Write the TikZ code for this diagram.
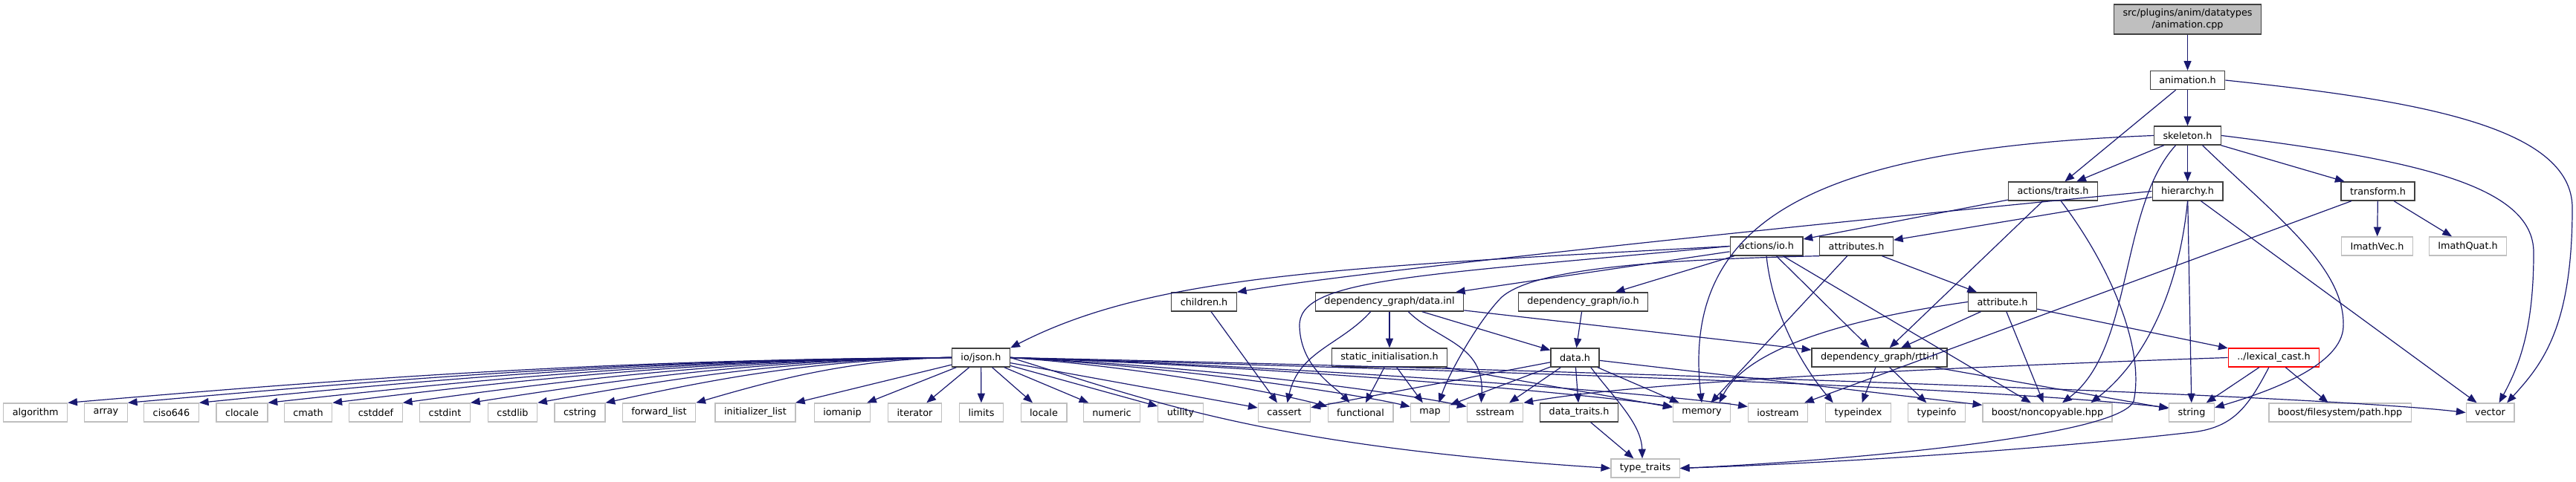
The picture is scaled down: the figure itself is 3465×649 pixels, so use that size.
\documentclass[tikz,border=0pt]{standalone}
\usepackage{fontspec}
\setmainfont{DejaVu Sans}
\usetikzlibrary{arrows.meta}
\definecolor{edgeNavy}{RGB}{25,25,112}
\definecolor{boxDark}{RGB}{64,64,64}
\definecolor{boxLight}{RGB}{191,191,191}
\tikzset{
  hdr/.style={draw=boxDark,fill=white,line width=1pt,inner xsep=9pt,inner ysep=0pt,minimum height=18.75pt,font=\fontsize{9.6}{12}\selectfont},
  sys/.style={hdr,draw=boxLight},
  rootbox/.style={hdr,fill=boxLight,align=center,minimum height=30pt},
  missing/.style={hdr,draw=red},
  inc/.style={draw=edgeNavy,line width=0.9pt,-{Triangle[length=9.5pt,width=7.5pt]}}
}
\begin{document}
\begin{tikzpicture}[x=0.75pt,y=-0.75pt]
\useasboundingbox (0,0) rectangle (3465,649);
\node[rootbox] (root) at (2942.5,26) {src/plugins/anim/datatypes\\/animation.cpp};
\node[hdr] (animh) at (2942.5,108) {animation.h};
\node[hdr] (skel) at (2942.5,182.5) {skeleton.h};
\node[hdr] (acttraits) at (2761.5,257.5) {actions/traits.h};
\node[hdr] (hier) at (2942.5,257.5) {hierarchy.h};
\node[hdr] (transf) at (3198.5,257.5) {transform.h};
\node[hdr] (actio) at (2376,331.5) {actions/io.h};
\node[hdr] (attrs) at (2497,331.5) {attributes.h};
\node[sys] (imvec) at (3197.5,331.5) {ImathVec.h};
\node[sys] (imquat) at (3319.5,331.5) {ImathQuat.h};
\node[hdr] (children) at (1619.5,406.5) {children.h};
\node[hdr] (dgdata) at (1869,406.5) {dependency\_graph/data.inl};
\node[hdr] (dgio) at (2129.5,406.5) {dependency\_graph/io.h};
\node[hdr] (attr) at (2693.5,406.5) {attribute.h};
\node[hdr] (json) at (1319.5,481.5) {io/json.h};
\node[hdr] (statinit) at (1869,481.5) {static\_initialisation.h};
\node[hdr] (datah) at (2118.5,481.5) {data.h};
\node[hdr] (rtti) at (2528,481.5) {dependency\_graph/rtti.h};
\node[missing] (lexcast) at (3058.5,481.5) {../lexical\_cast.h};
\foreach \n/\txt/\x in {algorithm/algorithm/47.7, array/array/142.5, ciso/ciso646/230.5, clocale/clocale/325.5, cmath/cmath/414.5, cstddef/cstddef/505.5, cstdint/cstdint/598.5, cstdlib/cstdlib/689.5, cstring/cstring/780, fwdlist/forward\_list/886.5, initlist/initializer\_list/1016, iomanip/iomanip/1133, iterator/iterator/1230.5, limits/limits/1320, locale/locale/1404, numeric/numeric/1495.5, utility/utility/1588, cassert/cassert/1727.5, functional/functional/1830, map/map/1923.5, sstream/sstream/2011, memory/memory/2289, iostream/iostream/2391.5, typeindex/typeindex/2499.5, typeinfo/typeinfo/2605, noncopy/{boost/noncopyable.hpp}/2754, string/string/2948, fspath/{boost/filesystem/path.hpp}/3147.5, vector/vector/3349.5}
  \node[sys] (\n) at (\x,555.5) {\txt};
\node[hdr] (datatraits) at (2124,555.5) {data\_traits.h};
\node[sys] (typetraits) at (2213,630.5) {type\_traits};

\draw[inc] (root) -- (animh);
\draw[inc] (animh) -- (skel);
\draw[inc] (animh) -- (acttraits);
\draw[inc] (animh.east) .. controls (3250,135) and (3460,170) .. (3460,280) .. controls (3460,440) and (3420,490) .. ([xshift=17pt]vector.north);
\draw[inc] (skel) -- (acttraits);
\draw[inc] (skel) -- (hier);
\draw[inc] (skel) -- (transf);
\draw[inc] (skel.west) .. controls (2450,200) and (2260,290) .. (memory.north);
\draw[inc] ([xshift=-12pt]skel.south) .. controls (2850,280) and (2870,470) .. ([xshift=15pt]noncopy.north);
\draw[inc] ([xshift=15pt]skel.south) .. controls (3060,290) and (3155,360) .. (3152,440) .. controls (3150,490) and (3060,525) .. ([yshift=5pt]string.east);
\draw[inc] (skel.east) .. controls (3250,215) and (3408,250) .. (3408,340) .. controls (3408,440) and (3390,490) .. ([xshift=9pt]vector.north);
\draw[inc] (acttraits) -- (actio);
\draw[inc] (acttraits) -- (rtti);
\draw[inc] ([xshift=8pt]acttraits.south) .. controls (2840,360) and (2885,470) .. (2870,540) .. controls (2850,590) and (2450,622) .. (typetraits.east);
\draw[inc] (hier) -- (attrs);
\draw[inc] (hier.west) .. controls (2300,315) and (1800,370) .. (children.north east);
\draw[inc] (hier) -- (string);
\draw[inc] (hier) -- (vector);
\draw[inc] (hier.south) .. controls (2930,400) and (2880,490) .. ([xshift=-22pt]noncopy.north east);
\draw[inc] (transf) -- (imvec);
\draw[inc] (transf) -- (imquat);
\draw[inc] (transf) -- (iostream);
\draw[inc] (actio.west) .. controls (1800,360) and (1550,370) .. (json.north east);
\draw[inc] (actio.west) .. controls (1900,372) and (1745,375) .. (1748,440) .. controls (1750,495) and (1795,520) .. ([xshift=-11pt]functional.north);
\draw[inc] (actio) -- (dgdata);
\draw[inc] (actio) -- (dgio);
\draw[inc] (actio) -- (rtti);
\draw[inc] (actio) -- (noncopy);
\draw[inc] (actio.south) .. controls (2385,430) and (2430,500) .. ([xshift=8pt]typeindex.north west);
\draw[inc] (attrs) -- (attr);
\draw[inc] (attrs) -- (memory);
\draw[inc] (attrs.south west) .. controls (2200,350) and (2060,365) .. (2020,400) .. controls (1990,430) and (1950,500) .. ([xshift=9pt]map.north);
\draw[inc] (attr) -- (rtti);
\draw[inc] (attr.west) .. controls (2480,430) and (2350,470) .. ([xshift=-12pt]memory.north east);
\draw[inc] (attr) -- (noncopy);
\draw[inc] (attr) -- (lexcast);
\draw[inc] (rtti) -- (typeindex);
\draw[inc] (rtti) -- (typeinfo);
\draw[inc] (rtti) -- (string);
\draw[inc] (dgdata) -- (statinit);
\draw[inc] (dgdata) -- (datah);
\draw[inc] (dgdata) -- (rtti);
\draw[inc] ([xshift=-19pt]dgdata.south) .. controls (1804,464) and (1747,473) .. ([xshift=3pt]cassert.north);
\draw[inc] ([xshift=19pt]dgdata.south) .. controls (1934,459) and (1997,463) .. ([xshift=-14pt]sstream.north);
\draw[inc] (dgio) -- (datah);
\draw[inc] (statinit) -- (functional);
\draw[inc] (statinit) -- (map);
\draw[inc] (statinit) -- (memory);
\foreach \n in {cassert,map,sstream,datatraits,memory,noncopy}
  \draw[inc] (datah) -- (\n);
\draw[inc] ([xshift=16pt]datah.south) .. controls (2170,535) and (2208,570) .. ([xshift=-3pt]typetraits.north);
\draw[inc] (datatraits) -- (typetraits);
\draw[inc] (children) -- (cassert);
\draw[inc] (lexcast) -- (string);
\draw[inc] (lexcast) -- (fspath);
\draw[inc] ([xshift=-5pt]lexcast.south) .. controls (3021,554) and (3000,578) .. (2940,583) .. controls (2700,610) and (2421,625) .. (typetraits.east);
\draw[inc] (lexcast.west) .. controls (2600,495) and (2200,515) .. (sstream.north east);
\foreach \n/\a/\b in {algorithm/805/447, array/837/514, ciso/875/570, clocale/912/636, cmath/947/696, cstddef/985/763, cstdint/1021/827, cstdlib/1057/890, cstring/1094/953, fwdlist/1143/1040}
  \draw[inc] (json.west) .. controls (\a,484) and (\b,512) .. (\n.north east);
\foreach \n in {initlist,iomanip,iterator,limits,locale,numeric,utility,cassert}
  \draw[inc] (json) -- (\n);
\foreach \n/\a/\b in {functional/1550/1730, map/1600/1830, sstream/1650/1900, memory/1750/2150, iostream/1800/2250}
  \draw[inc] (json.east) .. controls (\a,495) and (\b,532) .. ([yshift=6pt]\n.west);
\draw[inc] (json.east) .. controls (1800,495) and (2600,515) .. ([yshift=5pt]string.west);
\draw[inc] (json.east) .. controls (2000,495) and (3100,530) .. (vector.west);
\draw[inc] (json.east) .. controls (1550,540) and (1700,600) .. (typetraits.west);
\end{tikzpicture}
\end{document}
